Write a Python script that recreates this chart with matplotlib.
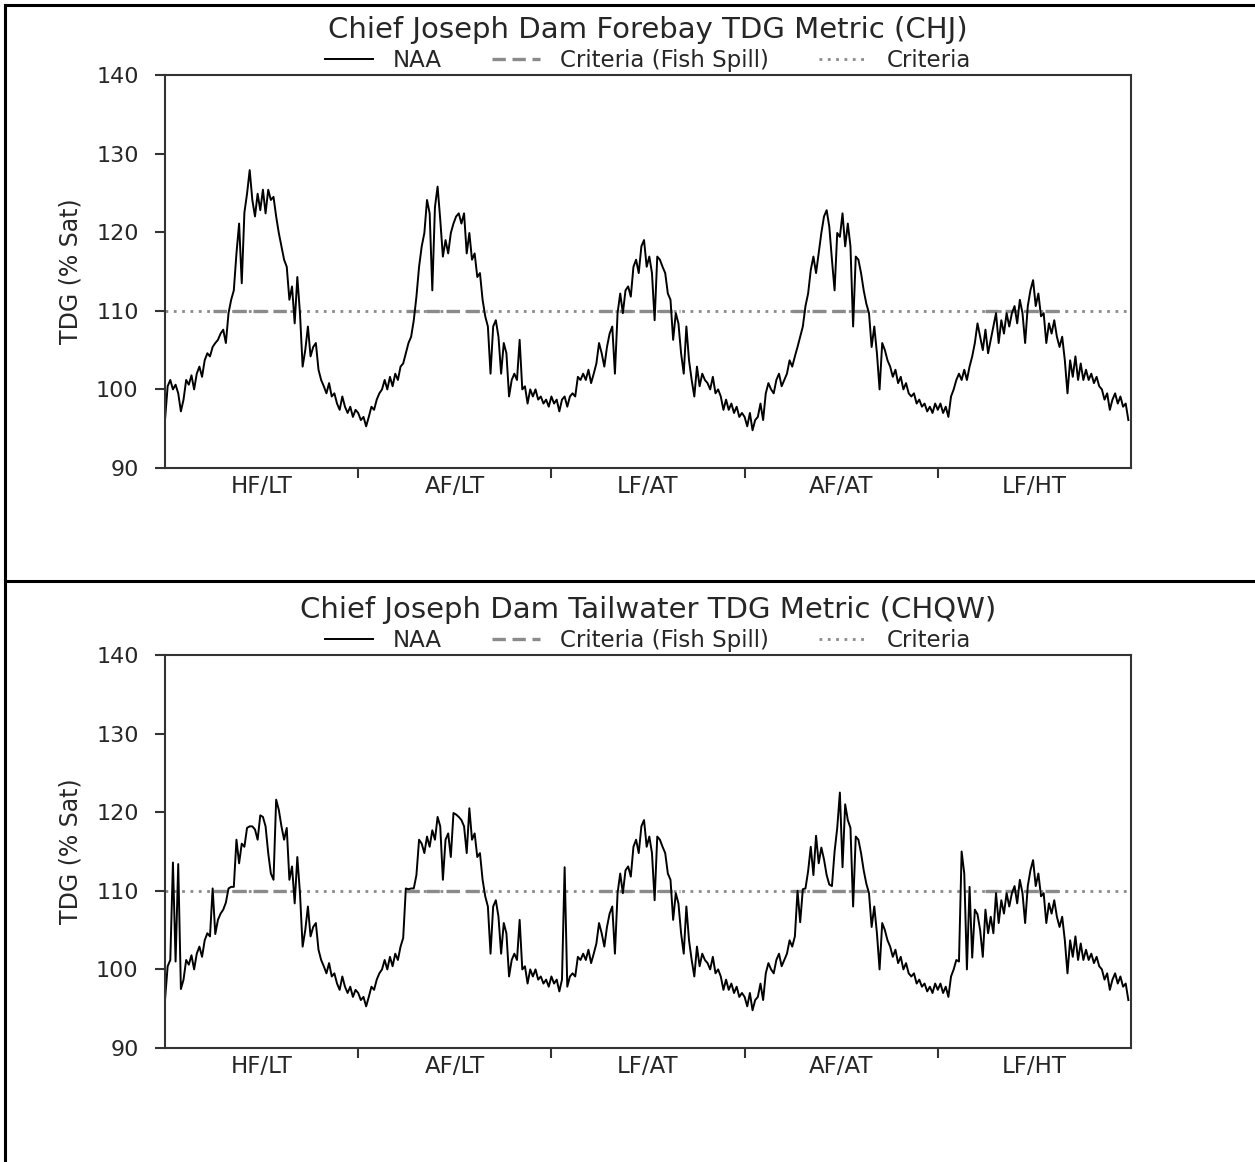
import numpy as np
import matplotlib.pyplot as plt
from matplotlib.lines import Line2D

plt.rcParams['font.family'] = ['DejaVu Sans']

# scenario labels, one per simulated year
scenarios = ["HF/LT", "AF/LT", "LF/AT", "AF/AT", "LF/HT"]
year_len = 365
step_days = 5  # values read every 5 days
criteria_tdg = 110
spill_start, spill_end = 90, 243  # Apr 1 - Aug 31

# Forebay (CHJ) TDG %sat
fb_y1 = [96.1, 100.4, 101.2, 100.0, 100.6, 99.5, 97.2, 98.7, 101.2, 100.6,
         101.8, 100.0, 102.0, 102.9, 101.6, 103.7, 104.6, 104.2, 105.4, 105.9,
         106.3, 107.1, 107.6, 105.9, 109.7, 111.4, 112.6, 117.3, 121.1, 113.5,
         122.5, 124.9, 127.9, 124.1, 122.0, 124.9, 122.8, 125.4, 122.4, 125.4,
         124.1, 124.5, 122.0, 119.9, 118.2, 116.5, 115.6, 111.4, 113.1, 108.4,
         114.3, 109.7, 102.9, 105.0, 108.0, 104.2, 105.4, 105.9, 102.5, 101.2,
         100.4, 99.5, 100.8, 99.1, 99.5, 98.2, 97.4, 99.1, 97.8, 97.0,
         97.8, 96.5, 97.4]
fb_y2 = [97.0, 96.1, 96.5, 95.3, 96.5, 97.8, 97.4, 98.7, 99.5, 100.0,
         101.2, 100.0, 101.6, 100.4, 102.0, 101.2, 102.9, 103.3, 104.6, 105.9,
         106.7, 108.8, 111.8, 115.6, 118.2, 119.9, 124.1, 122.4, 112.6, 123.2,
         125.8, 121.6, 116.9, 119.0, 117.3, 119.9, 121.1, 122.0, 122.4, 121.1,
         122.4, 117.3, 119.9, 116.5, 117.3, 114.3, 114.8, 111.4, 109.3, 108.0,
         102.0, 108.0, 108.8, 106.7, 102.0, 105.9, 104.6, 99.1, 101.2, 102.0,
         101.2, 106.3, 100.0, 100.4, 98.2, 100.0, 99.1, 100.0, 98.7, 99.1,
         98.2, 98.7, 97.8]
fb_y3 = [99.1, 98.2, 98.7, 97.2, 98.7, 99.1, 97.8, 99.1, 99.5, 99.1,
         101.6, 101.2, 102.0, 101.2, 102.5, 100.8, 102.0, 103.3, 105.9, 104.6,
         102.9, 105.4, 107.1, 108.0, 102.0, 109.7, 112.2, 109.7, 112.6, 113.1,
         111.8, 115.6, 116.5, 114.8, 118.2, 119.0, 115.6, 116.9, 114.8, 108.8,
         116.9, 116.5, 115.6, 114.8, 112.2, 111.4, 106.3, 109.7, 108.4, 104.6,
         102.0, 108.0, 103.7, 101.2, 99.1, 102.9, 100.4, 102.0, 101.2, 100.8,
         100.0, 101.6, 99.5, 100.0, 99.1, 97.4, 98.7, 97.4, 98.2, 97.0,
         97.8, 96.5, 97.0]
fb_y4 = [96.5, 95.3, 97.0, 94.8, 96.1, 96.5, 98.2, 96.1, 99.5, 100.8,
         100.0, 99.5, 101.2, 102.0, 100.4, 101.2, 102.0, 103.7, 102.9, 104.2,
         105.4, 106.7, 108.0, 110.6, 112.2, 115.2, 116.9, 114.8, 117.3, 119.9,
         122.0, 122.8, 120.7, 116.5, 112.6, 119.9, 119.4, 122.4, 118.2, 121.1,
         118.2, 108.0, 116.9, 116.5, 114.8, 112.6, 110.9, 109.7, 105.4, 108.0,
         104.6, 100.0, 105.9, 105.0, 103.7, 102.9, 101.6, 102.5, 100.8, 101.6,
         100.0, 100.8, 99.5, 99.1, 99.5, 98.2, 98.7, 97.8, 98.2, 97.2,
         97.8, 97.0, 98.2]
fb_y5 = [97.4, 98.2, 97.0, 97.8, 96.5, 99.1, 100.0, 101.2, 102.0, 101.2,
         102.5, 101.2, 102.9, 104.2, 105.9, 108.4, 106.7, 105.0, 107.6, 104.6,
         106.3, 108.0, 109.7, 105.9, 108.8, 107.1, 109.7, 108.0, 109.7, 110.6,
         108.4, 111.4, 109.7, 105.9, 110.6, 112.6, 113.9, 110.6, 112.2, 109.3,
         109.7, 105.9, 108.4, 107.1, 108.8, 106.7, 105.4, 106.7, 103.7, 99.5,
         103.7, 101.6, 104.2, 101.2, 103.3, 101.2, 102.5, 101.2, 102.0, 100.8,
         101.6, 100.4, 100.0, 98.7, 99.5, 97.4, 98.7, 99.5, 98.2, 99.1,
         97.8, 98.2, 96.1]

# Tailwater (CHQW) TDG %sat
tw_y1 = [96.1, 100.4, 101.2, 113.6, 101.0, 113.4, 97.5, 98.7, 101.2, 100.6,
         101.8, 100.0, 102.0, 102.9, 101.6, 103.7, 104.6, 104.2, 110.3, 104.5,
         106.3, 107.1, 107.6, 108.5, 110.3, 110.5, 110.5, 116.5, 113.5, 116.0,
         115.6, 118.0, 118.2, 118.2, 117.8, 116.5, 119.6, 119.4, 118.2, 114.8,
         112.2, 111.4, 121.6, 120.3, 118.2, 116.5, 118.0, 111.4, 113.1, 108.4,
         114.3, 109.7, 102.9, 105.0, 108.0, 104.2, 105.4, 105.9, 102.5, 101.2,
         100.4, 99.5, 100.8, 99.1, 99.5, 98.2, 97.4, 99.1, 97.8, 97.0,
         97.8, 96.5, 97.4]
tw_y2 = [97.0, 96.1, 96.5, 95.3, 96.5, 97.8, 97.4, 98.7, 99.5, 100.0,
         101.2, 100.0, 101.6, 100.4, 102.0, 101.2, 102.9, 104.0, 110.3, 110.2,
         110.3, 110.3, 112.0, 116.5, 116.0, 114.8, 116.9, 115.6, 117.7, 116.5,
         119.4, 118.2, 111.4, 116.5, 117.3, 114.3, 119.9, 119.7, 119.4, 119.0,
         118.2, 114.8, 120.5, 116.5, 117.3, 114.3, 114.8, 111.4, 109.3, 108.0,
         102.0, 108.0, 108.8, 106.7, 102.0, 105.9, 104.6, 99.1, 101.2, 102.0,
         101.2, 106.3, 100.0, 100.4, 98.2, 100.0, 99.1, 100.0, 98.7, 99.1,
         98.2, 98.7, 97.8]
tw_y3 = [99.1, 98.2, 98.7, 97.2, 98.7, 113.0, 97.8, 99.1, 99.5, 99.1,
         101.6, 101.2, 102.0, 101.2, 102.5, 100.8, 102.0, 103.3, 105.9, 104.6,
         102.9, 105.4, 107.1, 108.0, 102.0, 109.7, 112.2, 109.7, 112.6, 113.1,
         111.8, 115.6, 116.5, 114.8, 118.2, 119.0, 115.6, 116.9, 114.8, 108.8,
         116.9, 116.5, 115.6, 114.8, 112.2, 111.4, 106.3, 109.7, 108.4, 104.6,
         102.0, 108.0, 103.7, 101.2, 99.1, 102.9, 100.4, 102.0, 101.2, 100.8,
         100.0, 101.6, 99.5, 100.0, 99.1, 97.4, 98.7, 97.4, 98.2, 97.0,
         97.8, 96.5, 97.0]
tw_y4 = [96.5, 95.3, 97.0, 94.8, 96.1, 96.5, 98.2, 96.1, 99.5, 100.8,
         100.0, 99.5, 101.2, 102.0, 100.4, 101.2, 102.0, 103.7, 102.9, 104.2,
         110.0, 106.0, 110.2, 110.3, 112.5, 115.6, 112.0, 117.0, 113.5, 115.5,
         114.0, 112.0, 110.8, 110.6, 115.0, 118.0, 122.5, 113.0, 121.0, 119.0,
         118.0, 108.0, 116.9, 116.5, 114.8, 112.6, 110.9, 109.7, 105.4, 108.0,
         104.6, 100.0, 105.9, 105.0, 103.7, 102.9, 101.6, 102.5, 100.8, 101.6,
         100.0, 100.8, 99.5, 99.1, 99.5, 98.2, 98.7, 97.8, 98.2, 97.2,
         97.8, 97.0, 98.2]
tw_y5 = [97.4, 98.2, 97.0, 97.8, 96.5, 99.1, 100.0, 101.2, 101.0, 115.0,
         112.2, 100.0, 110.5, 101.5, 107.6, 107.0, 105.0, 101.6, 107.6, 104.6,
         106.7, 104.6, 109.7, 105.9, 108.8, 107.1, 109.7, 108.0, 109.7, 110.6,
         108.4, 111.4, 109.7, 105.9, 110.6, 112.6, 113.9, 110.6, 112.2, 109.3,
         109.7, 105.9, 108.4, 107.1, 108.8, 106.7, 105.4, 106.7, 103.7, 99.5,
         103.7, 101.6, 104.2, 101.2, 103.3, 101.2, 102.5, 101.2, 102.0, 100.8,
         101.6, 100.4, 100.0, 98.7, 99.5, 97.4, 98.7, 99.5, 98.2, 99.1,
         97.8, 98.2, 96.1]

forebay = fb_y1 + fb_y2 + fb_y3 + fb_y4 + fb_y5
tailwater = tw_y1 + tw_y2 + tw_y3 + tw_y4 + tw_y5

panels = [
    ("Chief Joseph Dam Forebay TDG Metric (CHJ)", forebay),
    ("Chief Joseph Dam Tailwater TDG Metric (CHQW)", tailwater),
]

W, H = 1255, 1162
fig = plt.figure(figsize=(W / 100, H / 100), dpi=100)

text_col = '#262626'
spine_col = '#333333'
crit_col = '#8a8a8a'
n_years = len(scenarios)
total_days = n_years * year_len


def draw_panel(ax, title, values):
    days = np.arange(len(values)) * step_days
    # criteria lines
    ax.plot([0, total_days], [criteria_tdg, criteria_tdg], color=crit_col,
            lw=2.0, linestyle=(0, (1, 2)))
    for i in range(n_years):
        ax.plot([i * year_len + spill_start, i * year_len + spill_end],
                [criteria_tdg, criteria_tdg], color=crit_col, lw=2.4,
                linestyle=(0, (4, 2)))
    ax.plot(days, values, color='black', lw=1.4)

    ax.set_xlim(0, total_days)
    ax.set_ylim(90, 140)
    ax.set_yticks(range(90, 141, 10))
    ax.set_xticks([year_len * i for i in range(1, n_years)])
    ax.set_xticklabels([])
    ax.set_xticks([year_len * (i + 0.5) for i in range(n_years)], minor=True)
    ax.set_xticklabels(scenarios, minor=True)
    ax.tick_params(axis='x', which='major', direction='out', length=7,
                   width=1.5, color=spine_col)
    ax.tick_params(axis='x', which='minor', length=0, pad=5,
                   labelsize=16.5, labelcolor=text_col)
    ax.tick_params(axis='y', direction='out', length=7, width=1.5,
                   color=spine_col, pad=12, labelsize=16, labelcolor=text_col)
    for s in ax.spines.values():
        s.set_color(spine_col)
        s.set_linewidth(1.5)
    ax.set_ylabel("TDG (% Sat)", fontsize=17, color=text_col, labelpad=10)

    handles = [
        Line2D([], [], color='black', lw=1.4),
        Line2D([], [], color=crit_col, lw=2.4, linestyle=(0, (4, 2))),
        Line2D([], [], color=crit_col, lw=2.0, linestyle=(0, (1, 2))),
    ]
    ax.legend(handles, ["NAA", "Criteria (Fish Spill)", "Criteria"],
              loc='center', bbox_to_anchor=(0.5, 1.038), ncol=3,
              frameon=False, fontsize=16.5, handlelength=2.1,
              handletextpad=0.85, columnspacing=2.2, labelcolor=text_col,
              borderpad=0, borderaxespad=0)


ax_left = 165 / W
ax_w = (1131 - 165) / W
ax_h = 393 / H
tops = [75, 655]
for (title, vals), top in zip(panels, tops):
    ax = fig.add_axes([ax_left, 1 - (top + 393) / H, ax_w, ax_h])
    draw_panel(ax, title, vals)
    fig.text(ax_left + ax_w / 2, 1 - (top - 45) / H, title, ha='center',
             va='center', fontsize=21, color=text_col)

# table-style frame lines
frame_kw = dict(transform=fig.transFigure, color='black', lw=2.2)
fig.add_artist(Line2D([5 / W, 1], [1 - 5 / H, 1 - 5 / H], **frame_kw))
fig.add_artist(Line2D([5 / W, 5 / W], [0, 1 - 5 / H], **frame_kw))
fig.add_artist(Line2D([5 / W, 1], [1 - 581 / H, 1 - 581 / H], **frame_kw))

fig.savefig("out.png", dpi=100)
